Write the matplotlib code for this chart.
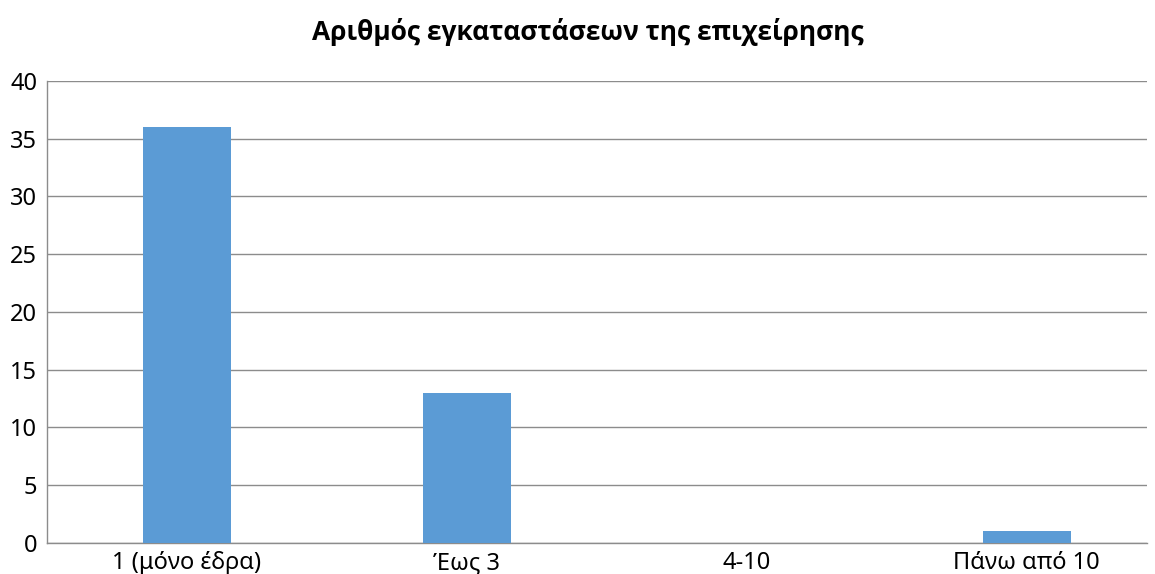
import matplotlib
matplotlib.use("Agg")
import matplotlib.pyplot as plt

categories = ["1 (μόνο έδρα)", "Έως 3", "4-10", "Πάνω από 10"]
values = [36, 13, 0, 1]
yticks = [0, 5, 10, 15, 20, 25, 30, 35, 40]
title = "Αριθμός εγκαταστάσεων της επιχείρησης"

plt.rcParams['font.family'] = ['Noto Sans', 'DejaVu Sans']

fig = plt.figure(figsize=(11.55, 5.74), dpi=100)
ax = fig.add_axes([0.0407, 0.054, 0.9523, 0.805])

x = range(len(categories))
ax.bar(list(x), values, width=0.314, color="#5B9BD5", zorder=3)

ax.set_xlim(-0.5, 3.43)
ax.set_ylim(0, 40)
ax.set_yticks(yticks)
ax.set_xticks(list(x))
ax.set_xticklabels(categories)
ax.tick_params(axis="both", length=0, labelsize=17, colors="#000000", pad=7)
ax.tick_params(axis="x", pad=6)

ax.grid(axis="y", color="#8c8c8c", linewidth=1.0, zorder=0)
for side in ["top", "right"]:
    ax.spines[side].set_visible(False)
ax.spines["left"].set_color("#8c8c8c")
ax.spines["bottom"].set_color("#8c8c8c")
ax.spines["left"].set_linewidth(1.0)
ax.spines["bottom"].set_linewidth(1.0)

fig.text(0.509, 0.945, title, ha="center", va="center", fontsize=19,
         fontweight="bold", family=["Open Sans", "DejaVu Sans"])

fig.savefig("out.png", dpi=100)
plt.close(fig)
